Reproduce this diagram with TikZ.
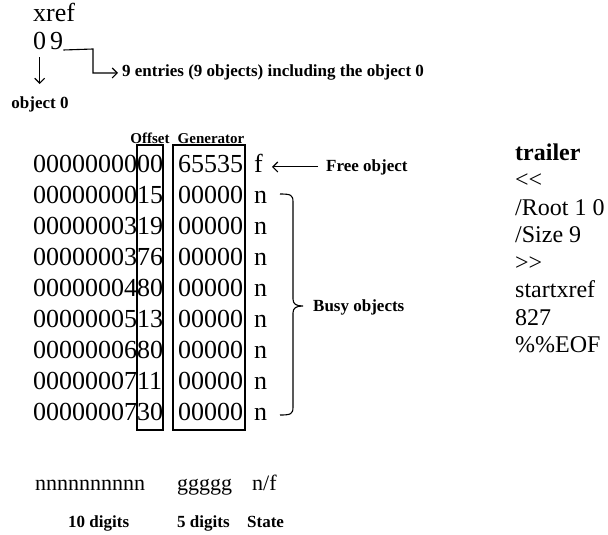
\documentclass[tikz,border=0pt]{standalone}
\usepackage{fontspec}
\setmainfont{Liberation Serif}
\usetikzlibrary{arrows.meta}
\begin{document}
\begin{tikzpicture}[x=1pt,y=-1pt,
  txt/.style={inner sep=0pt, anchor=base west},
  big/.style={txt, font=\fontsize{26}{30}\selectfont},
  trl/.style={txt, font=\fontsize{24}{28}\selectfont},
  small/.style={txt, font=\fontsize{22}{26}\selectfont},
  lab/.style={txt, font=\fontsize{17}{20}\selectfont\bfseries},
  head/.style={inner sep=0pt, anchor=base, font=\fontsize{15}{18}\selectfont\bfseries},
  colbox/.style={draw, line width=2.8pt, inner sep=0pt, minimum height=285pt},
  arr/.style={-{Straight Barb[length=5pt,width=10pt]}, line width=1.1pt},
  thin/.style={line width=1.1pt}]
\useasboundingbox (0,0) rectangle (608,535);

% header
\node[big] (xref) at (33,22) {xref};
\node[big] (zero) at (33,50) {0};
\node[big] (nine) at (50,50) {9};
\node[lab] (entries) at (122,77) {9 entries (9 objects) including the object 0};
\node[lab, anchor=base] (obj0) at (40,108) {object 0};
\draw[arr] (nine.base east) -- (93,49) |- ([xshift=-4pt]entries.west);
\draw[arr, shorten <=7pt, shorten >=12pt] (zero.south) -- (zero.south |- obj0.north);

% column headings and boxes
\node[head] (offlab) at (150,143) {Offset};
\node[head] (genlab) at (211,143) {Generator};
\node[colbox, minimum width=26pt] (offbox) at (150,287.5) {};
\node[colbox, minimum width=72pt] (genbox) at (209,287.5) {};

% rows
\foreach \i/\off/\gen/\st in {1/0000000000/65535/f, 2/0000000015/00000/n, 3/0000000319/00000/n,
    4/0000000376/00000/n, 5/0000000480/00000/n, 6/0000000513/00000/n,
    7/0000000680/00000/n, 8/0000000711/00000/n, 9/0000000730/00000/n}{
  \node[big] (r\i) at (33,{141+31*\i}) {\off};
  \node[big] (g\i) at (178,{141+31*\i}) {\gen};
  \node[big] (s\i) at (254,{141+31*\i}) {\st};
}

% free object
\node[lab] (free) at (326,171) {Free object};
\draw[arr, shorten <=8pt, shorten >=9pt] (free.west) -- (free.west -| s1.east);

% busy objects brace
\coordinate (bt) at (280,194);
\coordinate (bb) at (280,415);
\coordinate (btip) at (303,306);
\draw[thin] (bt) .. controls (291,194) and (293,195) .. (293,202) -- (293,299)
  .. controls (293,304) and (296,306) .. (btip)
  .. controls (296,306) and (293,308) .. (293,313) -- (293,407)
  .. controls (293,414) and (291,415) .. (bb);
\node[lab, anchor=west] (busy) at (313,307) {Busy objects};

% trailer
\node[trl, font=\fontsize{24}{28}\selectfont\bfseries] (trailer) at (515,160) {trailer};
\node[trl] (t1) at (515,187.5) {<{}<};
\node[trl] (t2) at (515,215) {/Root 1 0};
\node[trl] (t3) at (515,242.5) {/Size 9};
\node[trl] (t4) at (515,270) {>{}>};
\node[trl] (t5) at (515,297.5) {startxref};
\node[trl] (t6) at (515,325) {827};
\node[trl] (t7) at (515,352.5) {\%\%EOF};

% legend
\node[small] (fn) at (35,490) {nnnnnnnnnn};
\node[small] (fg) at (177,490) {ggggg};
\node[small] (fs) at (252,490) {n/f};
\node[lab] (ln) at (68,527) {10 digits};
\node[lab] (lg) at (177,527) {5 digits};
\node[lab] (ls) at (247,527) {State};
\end{tikzpicture}
\end{document}
